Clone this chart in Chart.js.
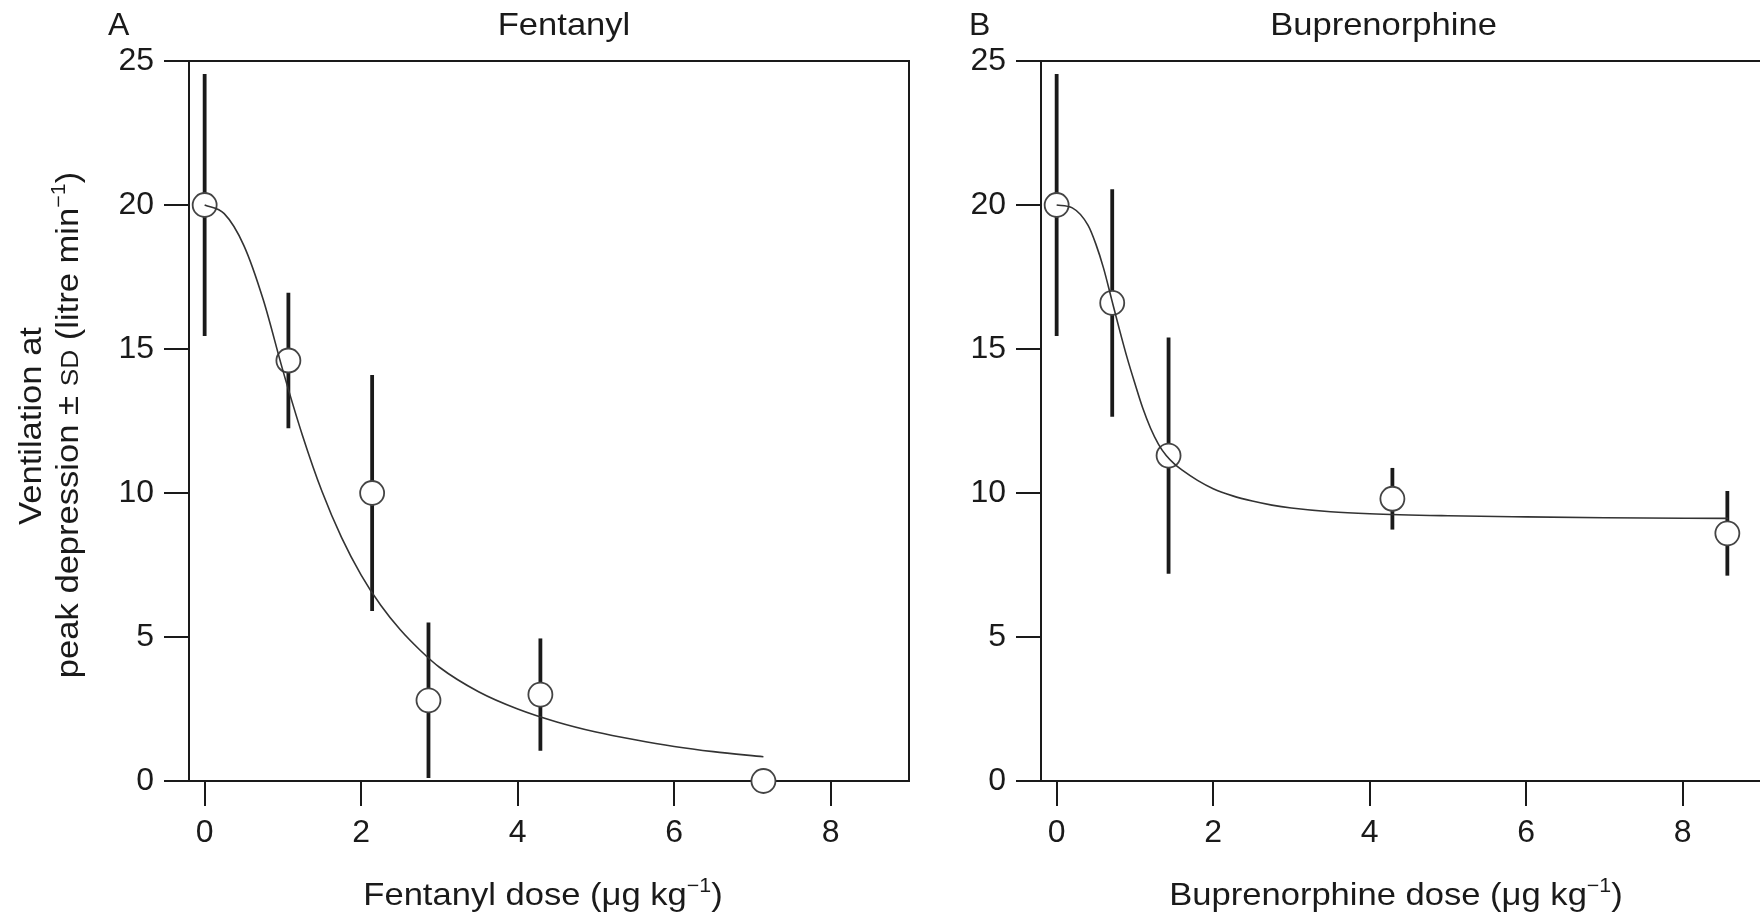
<!DOCTYPE html>
<html>
<head>
<meta charset="utf-8">
<script src="https://cdn.jsdelivr.net/npm/chart.js@4.4.1/dist/chart.umd.min.js"></script>
<style>
  html, body { margin: 0; padding: 0; background: #fff; overflow: hidden; }
  canvas { position: absolute; top: 0; }
  #panelA { left: 0; }
  #panelB { left: 880px; }
</style>
</head>
<body>
<canvas id="panelA" width="930" height="915"></canvas>
<canvas id="panelB" width="910" height="915"></canvas>
<script>
const INK = '#1a1a1a';
const FONT = '"Liberation Sans", Arial, Helvetica, sans-serif';
const STRETCH = 1.08; // titles are set a little wider than Liberation Sans

// axis ticks shared by both panels
const xTicks = [0, 2, 4, 6, 8];
const yTicks = [0, 5, 10, 15, 20, 25];

// Fentanyl: measured ventilation (mean, SD) and fitted curve
const fentanylDose = [0, 1.07, 2.14, 2.86, 4.29, 7.14];
const fentanylVent = [20.0, 14.6, 10.0, 2.8, 3.0, 0.0];
const fentanylSD = [4.55, 2.35, 4.1, 2.7, 1.95, 0];
const fentanylFitDose = [0, 0.25, 0.5, 0.75, 1.0, 1.25, 1.5, 1.75, 2.0, 2.25, 2.5, 2.75, 3.0, 3.5, 4.0, 4.5, 5.0, 5.5, 6.0, 6.5, 7.14];
const fentanylFitVent = [20.0, 19.7, 18.6, 16.7, 14.25, 12.0, 10.05, 8.45, 7.15, 6.1, 5.25, 4.55, 3.95, 3.1, 2.5, 2.05, 1.7, 1.43, 1.2, 1.02, 0.84];

// Buprenorphine
const buprenorphineDose = [0, 0.71, 1.43, 4.29, 8.57];
const buprenorphineVent = [20.0, 16.6, 11.3, 9.8, 8.6];
const buprenorphineSD = [4.55, 3.95, 4.1, 1.07, 1.47];
const buprenorphineFitDose = [0, 0.2, 0.4, 0.5, 0.6, 0.7, 0.8, 0.9, 1.0, 1.1, 1.2, 1.3, 1.4, 1.5, 1.6, 1.8, 2.0, 2.25, 2.5, 2.75, 3.0, 3.5, 4.0, 5.0, 6.0, 7.0, 8.58];
const buprenorphineFitVent = [20.0, 19.9, 19.3, 18.65, 17.8, 16.75, 15.7, 14.7, 13.8, 12.95, 12.25, 11.7, 11.3, 11.02, 10.8, 10.44, 10.15, 9.9, 9.72, 9.58, 9.48, 9.35, 9.28, 9.21, 9.17, 9.14, 9.12];

const toPoints = (xs, ys) => xs.map((x, i) => ({ x, y: ys[i] }));

// text with superscripts / small caps, centred on cx
function drawRich(ctx, parts, cx, baseline, size) {
  const fontFor = p => `${p.sup ? size * 0.62 : p.small ? size * 0.76 : size}px ${FONT}`;
  let total = 0;
  parts.forEach(p => { ctx.font = fontFor(p); total += ctx.measureText(p.t).width; });
  ctx.save();
  ctx.translate(cx, baseline);
  ctx.scale(STRETCH, 1);
  let x = -total / 2;
  ctx.textAlign = 'left';
  ctx.textBaseline = 'alphabetic';
  parts.forEach(p => {
    ctx.font = fontFor(p);
    ctx.fillText(p.t, x, p.sup ? -size * 0.4 : 0);
    x += ctx.measureText(p.t).width;
  });
  ctx.restore();
}

function makeErrorBars(dose, mean, sd) {
  return {
    id: 'errorBars',
    beforeDatasetsDraw(chart) {
      const { ctx, chartArea, scales: { x, y } } = chart;
      ctx.save();
      // top and right sides of the box
      ctx.strokeStyle = INK;
      ctx.lineWidth = 2;
      ctx.beginPath();
      ctx.moveTo(chartArea.left, chartArea.top);
      ctx.lineTo(chartArea.right, chartArea.top);
      ctx.lineTo(chartArea.right, chartArea.bottom);
      ctx.stroke();

      ctx.lineWidth = 3.8;
      dose.forEach((d, i) => {
        if (!sd[i]) return;
        const px = x.getPixelForValue(d);
        ctx.beginPath();
        ctx.moveTo(px, y.getPixelForValue(mean[i] - sd[i]));
        ctx.lineTo(px, y.getPixelForValue(mean[i] + sd[i]));
        ctx.stroke();
      });
      ctx.restore();
    }
  };
}

function makeLabels(cfg) {
  return {
    id: 'panelLabels',
    afterDraw(chart) {
      const { ctx, chartArea } = chart;
      ctx.save();
      ctx.fillStyle = INK;
      ctx.font = `32px ${FONT}`;
      ctx.textBaseline = 'alphabetic';
      ctx.textAlign = 'left';
      ctx.fillText(cfg.letter, cfg.letterX, 35);
      drawRich(ctx, [{ t: cfg.title }], cfg.titleX, 35, 32);

      drawRich(ctx, cfg.xTitle, (chartArea.left + chartArea.right) / 2 + cfg.xTitleShift, 905, 32);

      if (cfg.yTitle) {
        cfg.yTitle.forEach(line => {
          ctx.save();
          ctx.translate(line.x, line.cy);
          ctx.rotate(-Math.PI / 2);
          drawRich(ctx, line.parts, 0, 0, 32);
          ctx.restore();
        });
      }
      ctx.restore();
    }
  };
}

function createPanel(canvasId, p) {
  return new Chart(document.getElementById(canvasId), {
    type: 'scatter',
    data: {
      datasets: [
        {
          type: 'line',
          data: toPoints(p.fitDose, p.fitVent),
          borderColor: '#333',
          borderWidth: 1.6,
          pointRadius: 0,
          cubicInterpolationMode: 'monotone',
          fill: false,
          order: 0,
        },
        {
          data: toPoints(p.dose, p.vent),
          pointRadius: 12,
          pointBackgroundColor: '#fff',
          pointBorderColor: '#444',
          pointBorderWidth: 1.8,
          clip: false,
          order: 1,
        },
      ],
    },
    options: {
      responsive: false,
      animation: false,
      events: [],
      layout: { padding: { left: 0, top: 61, right: p.padRight, bottom: 0 } },
      plugins: { legend: { display: false }, tooltip: { enabled: false } },
      scales: {
        x: {
          type: 'linear',
          min: -0.2,
          max: 9,
          afterBuildTicks: axis => { axis.ticks = xTicks.map(v => ({ value: v })); },
          afterFit: axis => { axis.height = 134; },
          grid: { drawOnChartArea: false, tickLength: 25, color: INK, lineWidth: 2 },
          border: { color: INK, width: 2 },
          ticks: { color: INK, padding: 8, maxRotation: 0, font: { family: FONT, size: 32 } },
        },
        y: {
          type: 'linear',
          min: 0,
          max: 25,
          afterBuildTicks: axis => { axis.ticks = yTicks.map(v => ({ value: v })); },
          afterFit: axis => { axis.width = p.yAxisWidth; },
          grid: { drawOnChartArea: false, tickLength: 25, color: INK, lineWidth: 2 },
          border: { color: INK, width: 2 },
          ticks: { color: INK, padding: 10, font: { family: FONT, size: 32 } },
        },
      },
    },
    plugins: [makeErrorBars(p.dose, p.vent, p.sd), makeLabels(p.labels)],
  });
}

createPanel('panelA', {
  dose: fentanylDose, vent: fentanylVent, sd: fentanylSD,
  fitDose: fentanylFitDose, fitVent: fentanylFitVent,
  yAxisWidth: 189, padRight: 21,
  labels: {
    letter: 'A', letterX: 108, title: 'Fentanyl', titleX: 564, xTitleShift: -6,
    xTitle: [{ t: 'Fentanyl dose (μg kg' }, { t: '−1', sup: true }, { t: ')' }],
    yTitle: [
      { x: 41, cy: 426, parts: [{ t: 'Ventilation at' }] },
      { x: 78, cy: 425, parts: [{ t: 'peak depression ± ' }, { t: 'SD', small: true }, { t: ' (litre min' }, { t: '−1', sup: true }, { t: ')' }] },
    ],
  },
});

// the right edge of this box sits just past the page edge
createPanel('panelB', {
  dose: buprenorphineDose, vent: buprenorphineVent, sd: buprenorphineSD,
  fitDose: buprenorphineFitDose, fitVent: buprenorphineFitVent,
  yAxisWidth: 161, padRight: 29,
  labels: {
    letter: 'B', letterX: 89, title: 'Buprenorphine', titleX: 503.5, xTitleShift: -5,
    xTitle: [{ t: 'Buprenorphine dose (μg kg' }, { t: '−1', sup: true }, { t: ')' }],
  },
});
</script>
</body>
</html>
